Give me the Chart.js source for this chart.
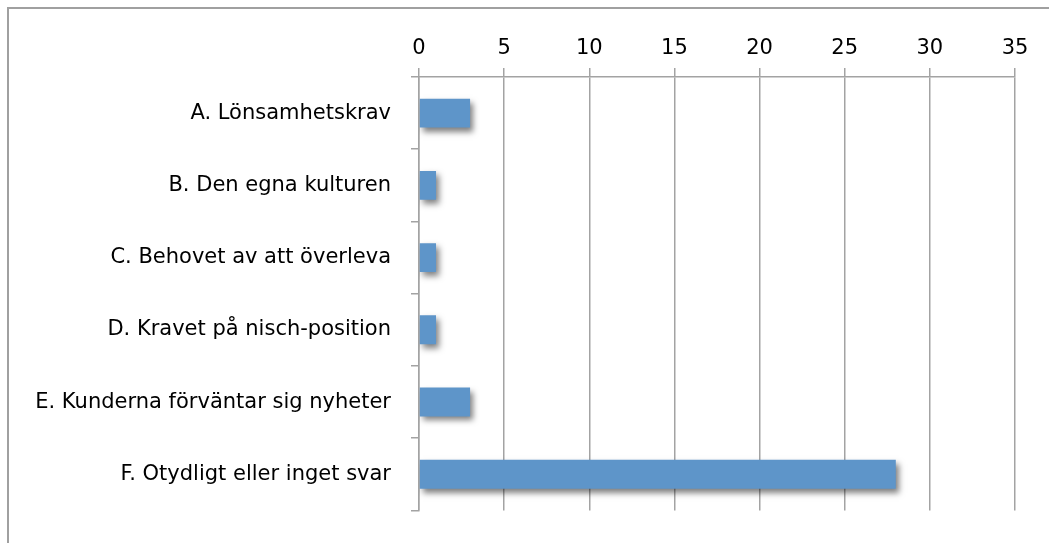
<!DOCTYPE html>
<html>
<head>
<meta charset="utf-8">
<script src="https://cdn.jsdelivr.net/npm/chart.js@4"></script>
<style>
  html, body { margin: 0; padding: 0; background: #fff; }
  #wrap { width: 1049px; height: 543px; position: relative; }
</style>
</head>
<body>
<div id="wrap"><canvas id="chart"></canvas></div>
<script>
// Data
const categories = [
  'A. Lönsamhetskrav',
  'B. Den egna kulturen',
  'C. Behovet av att överleva',
  'D. Kravet på nisch-position',
  'E. Kunderna förväntar sig nyheter',
  'F. Otydligt eller inget svar'
];
const values = [3, 1, 1, 1, 3, 28];
const xTicks = [0, 5, 10, 15, 20, 25, 30, 35];

const gridGrey = '#a3a3a3';
const fontFamily = "'DejaVu Sans', sans-serif";

// outer frame (only top and left visible in the reference)
const framePlugin = {
  id: 'frame',
  beforeDraw(chart) {
    const ctx = chart.ctx;
    ctx.save();
    ctx.strokeStyle = '#a0a0a0';
    ctx.lineWidth = 2;
    ctx.beginPath();
    ctx.moveTo(8, chart.height);
    ctx.lineTo(8, 8);
    ctx.lineTo(chart.width, 8);
    ctx.stroke();
    ctx.restore();
  }
};

// soft drop shadow under the bars
const shadowPlugin = {
  id: 'barShadow',
  beforeDatasetsDraw(chart) {
    const ctx = chart.ctx;
    ctx.save();
    ctx.shadowColor = 'rgba(0, 0, 0, 0.5)';
    ctx.shadowBlur = 6;
    ctx.shadowOffsetX = 3;
    ctx.shadowOffsetY = 4;
  },
  afterDatasetsDraw(chart) {
    chart.ctx.restore();
  }
};

new Chart(document.getElementById('chart'), {
  type: 'bar',
  data: {
    labels: categories,
    datasets: [{
      data: values,
      backgroundColor: '#5e95c9',
      borderWidth: 0,
      categoryPercentage: 1,
      barPercentage: 0.4
    }]
  },
  options: {
    indexAxis: 'y',
    responsive: true,
    maintainAspectRatio: false,
    animation: false,
    layout: { padding: { top: 0, right: 34, bottom: 31, left: 0 } },
    plugins: {
      legend: { display: false },
      tooltip: { enabled: false }
    },
    scales: {
      x: {
        position: 'top',
        min: 0,
        max: 35,
        afterBuildTicks(axis) {
          axis.ticks = xTicks.map(v => ({ value: v }));
        },
        afterFit(axis) { axis.height = 77; },
        ticks: {
          color: '#000',
          padding: 7,
          font: { family: fontFamily, size: 21 }
        },
        grid: {
          color: gridGrey,
          lineWidth: 1.5,
          tickLength: 9
        },
        border: { color: gridGrey, width: 1.5 }
      },
      y: {
        afterFit(axis) { axis.width = 419; },
        ticks: {
          color: '#000',
          padding: 20,
          font: { family: fontFamily, size: 21 }
        },
        grid: {
          offset: true,
          drawOnChartArea: false,
          color: gridGrey,
          lineWidth: 1.5,
          tickLength: 8
        },
        border: { color: gridGrey, width: 1.5 }
      }
    }
  },
  plugins: [framePlugin, shadowPlugin]
});
</script>
</body>
</html>
